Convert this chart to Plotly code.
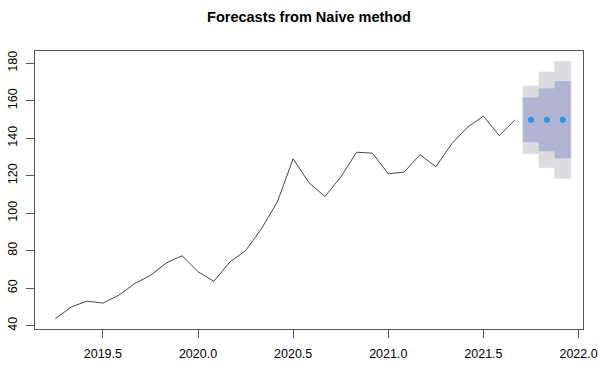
import plotly.graph_objects as go

start_year = 2019.25
freq = 12
values = [43.7, 49.9, 53.1, 52.0, 56.2, 62.4, 66.8, 73.4, 77.3, 68.8,
          63.6, 73.9, 80.0, 91.7, 105.9, 129.0, 116.2, 108.9, 119.2, 132.5,
          132.0, 121.0, 121.9, 131.2, 124.8, 137.0, 145.9, 151.7, 141.4, 149.8]
fc_mean = [149.8, 149.8, 149.8]
lo80 = [138.0, 133.2, 129.4]
hi80 = [161.6, 166.4, 170.2]
lo95 = [131.8, 124.3, 118.6]
hi95 = [167.8, 175.3, 181.0]
x_ticks = [2019.5, 2020.0, 2020.5, 2021.0, 2021.5, 2022.0]
y_ticks = [40, 60, 80, 100, 120, 140, 160, 180]

t_obs = [start_year + i / freq for i in range(len(values))]
t_fc = [t_obs[-1] + (i + 1) / freq for i in range(len(fc_mean))]
half = 0.5 / freq

fig = go.Figure()

def add_bars(lo, hi, color):
    for t, a, b in zip(t_fc, lo, hi):
        fig.add_trace(go.Scatter(x=[t - half, t + half, t + half, t - half, t - half],
                                 y=[a, a, b, b, a], fill="toself", fillcolor=color,
                                 line=dict(width=0.6, color=color), mode="lines",
                                 hoverinfo="skip", showlegend=False))

add_bars(lo95, hi95, "#DBDBE0")
add_bars(lo80, hi80, "#B1B5D3")

fig.add_trace(go.Scatter(x=t_obs, y=values, mode="lines",
                         line=dict(color="#444444", width=1), showlegend=False))
fig.add_trace(go.Scatter(x=t_fc, y=fc_mean, mode="markers",
                         marker=dict(color="#2297E6", size=6), showlegend=False))

xmin, xmax = t_obs[0], t_fc[-1]
xr = [xmin - 0.04 * (xmax - xmin), xmax + 0.04 * (xmax - xmin)]
ymin = min(values + lo95)
ymax = max(values + hi95)
yr = [ymin - 0.04 * (ymax - ymin), ymax + 0.04 * (ymax - ymin)]

axis_common = dict(showgrid=False, zeroline=False, showline=True, mirror=True,
                   linecolor="#555555", linewidth=1, ticks="outside",
                   ticklen=8, tickcolor="#555555", automargin=False,
                   tickfont=dict(family="Liberation Sans, Arial", size=12.5, color="#000"))

fig.update_xaxes(range=xr, tickvals=x_ticks, ticklabelstandoff=5,
                 ticktext=[f"{v:.1f}" for v in x_ticks], **axis_common)
fig.update_yaxes(range=yr, tickvals=y_ticks, ticklabelstandoff=4,
                 ticktext=[str(v) for v in y_ticks], tickangle=-90, **axis_common)

fig.update_layout(
    width=598, height=365,
    margin=dict(l=35, r=15, t=51, b=36),
    plot_bgcolor="white", paper_bgcolor="white",
    title=dict(text="<b>Forecasts from Naive method</b>", x=(35 + 583) / 2 / 598,
               xanchor="center", y=1 - 17 / 365, yanchor="middle",
               font=dict(family="Liberation Sans, Arial", size=14.5, color="#000")),
)

fig.write_html("out.html")
